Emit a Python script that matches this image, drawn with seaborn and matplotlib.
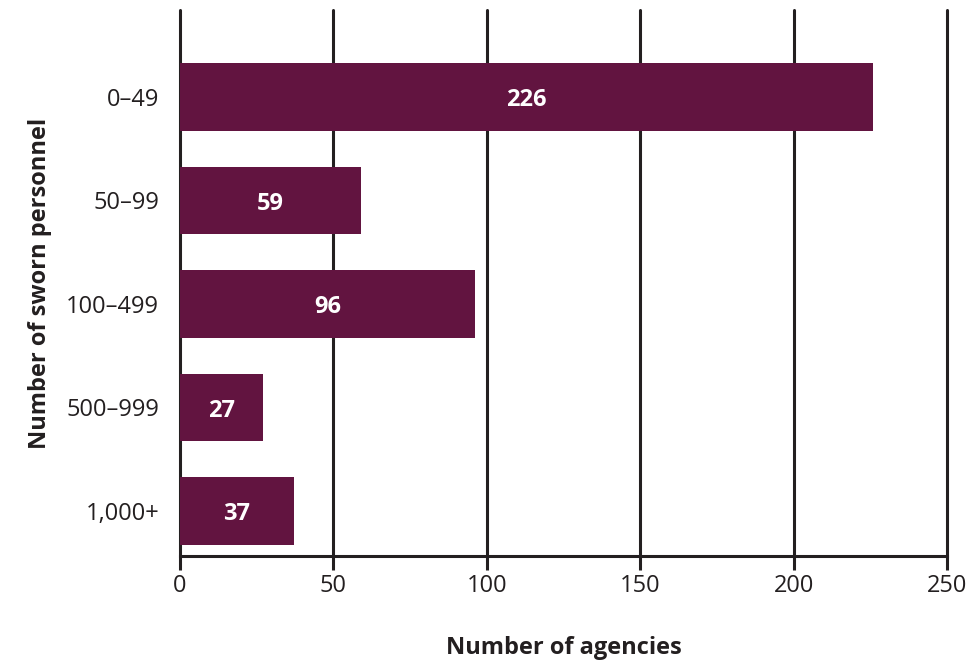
import matplotlib
matplotlib.use("Agg")
import matplotlib.pyplot as plt
import seaborn as sns
import pandas as pd

categories = ["0–49", "50–99", "100–499", "500–999", "1,000+"]
agencies = [226, 59, 96, 27, 37]
x_ticks = [0, 50, 100, 150, 200, 250]

df = pd.DataFrame({"cat": categories, "n": agencies})

sns.set_theme(style="white")
plt.rcParams["font.family"] = ["Open Sans", "DejaVu Sans"]

fig = plt.figure(figsize=(9.67, 6.6), dpi=100)
ax = fig.add_axes([180/967, 1-556/660, (947-180)/967, (556-10)/660])

bar_color = "#621440"
line_color = "#231f20"

sns.barplot(data=df, y="cat", x="n", orient="h", color=bar_color,
            width=0.65, saturation=1, ax=ax, zorder=3)
for p in ax.patches:
    p.set_edgecolor("none")

ax.set_xlim(0, 250)
ax.set_ylim(4.435, -0.84)
ax.set_xticks(x_ticks)
ax.set_xticklabels([str(t) for t in x_ticks])

ax.grid(False)
for t in x_ticks:
    ax.axvline(t, color=line_color, lw=2.2, zorder=1, clip_on=False)

for s in ["left", "top", "right"]:
    ax.spines[s].set_visible(False)
ax.spines["bottom"].set_color(line_color)
ax.spines["bottom"].set_linewidth(2.2)
ax.spines["bottom"].set_zorder(4)

ax.tick_params(axis="x", bottom=True, direction="out", length=10, width=2.2,
               color=line_color, labelsize=17, labelcolor=line_color, pad=3)
ax.tick_params(axis="y", left=False, length=0, labelsize=17,
               labelcolor=line_color, pad=15)

for p, v in zip(ax.patches, agencies):
    ax.text(p.get_x() + p.get_width()/2, p.get_y() + p.get_height()/2 + 0.03, str(v),
            ha="center", va="center", color="white", fontsize=17,
            fontweight="bold", zorder=5)

ax.set_xlabel("Number of agencies", fontsize=17, fontweight="bold",
              color=line_color, labelpad=27)
ax.set_ylabel("Number of sworn personnel", fontsize=17, fontweight="bold",
              color=line_color, labelpad=10)

fig.savefig("out.png", dpi=100)
